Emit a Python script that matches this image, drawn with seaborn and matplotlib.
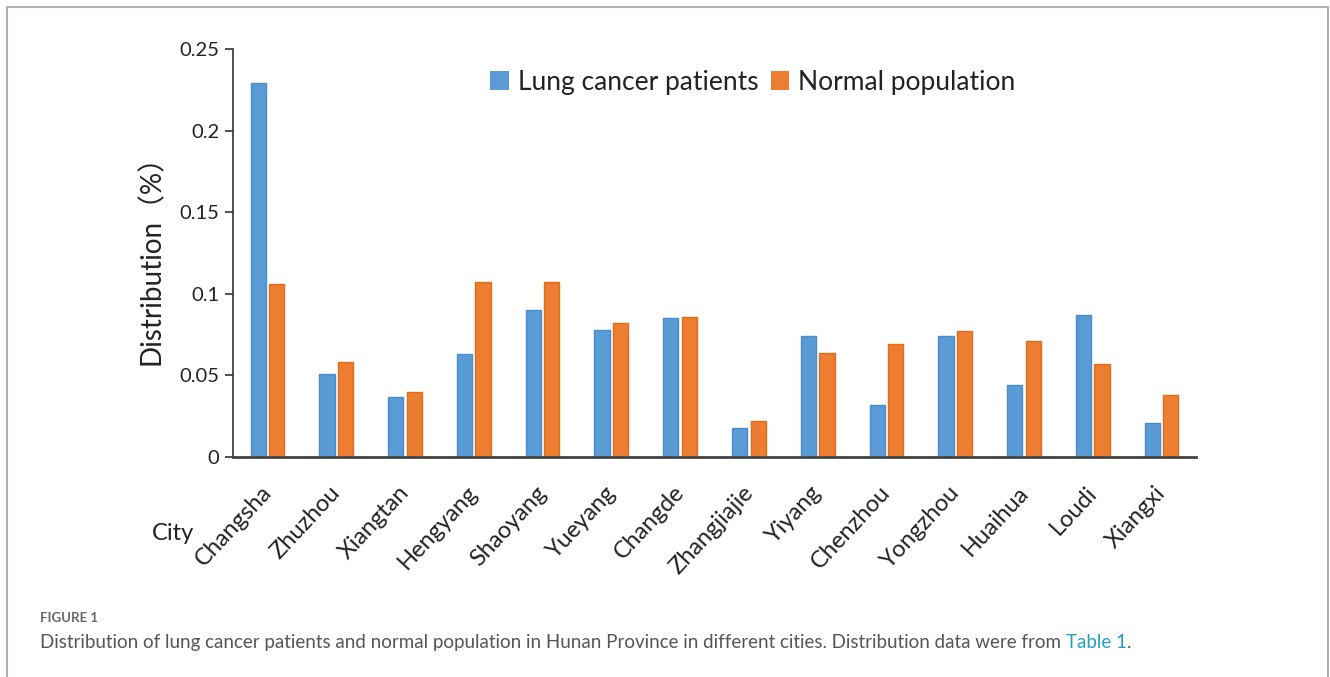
import pandas as pd
import matplotlib.pyplot as plt
import seaborn as sns
from matplotlib.lines import Line2D
from matplotlib.transforms import ScaledTranslation

# City distribution data
cities = ["Changsha", "Zhuzhou", "Xiangtan", "Hengyang", "Shaoyang", "Yueyang", "Changde",
          "Zhangjiajie", "Yiyang", "Chenzhou", "Yongzhou", "Huaihua", "Loudi", "Xiangxi"]
lung_cancer = [0.229, 0.051, 0.037, 0.063, 0.090, 0.078, 0.085,
               0.018, 0.074, 0.032, 0.074, 0.044, 0.087, 0.021]
normal_pop = [0.106, 0.058, 0.040, 0.107, 0.107, 0.082, 0.086,
              0.022, 0.064, 0.069, 0.077, 0.071, 0.057, 0.038]
groups = ["Lung cancer patients", "Normal population"]
yticks = [0, 0.05, 0.1, 0.15, 0.2, 0.25]
ytick_labels = ["0", "0.05", "0.1", "0.15", "0.2", "0.25"]

df = pd.DataFrame({
    "City": cities * 2,
    "Value": lung_cancer + normal_pop,
    "Group": [groups[0]] * len(cities) + [groups[1]] * len(cities),
})

sns.set_style("white")
plt.rcParams["font.family"] = ["Lato", "Noto Sans CJK SC", "DejaVu Sans"]

fig = plt.figure(figsize=(13.3, 6.77), dpi=100)
ax = fig.add_axes([0.1752, 0.3250, 0.7240, 0.6026])

sns.barplot(data=df, x="City", y="Value", hue="Group", ax=ax,
            palette=["#5B9BD5", "#ED7D31"], saturation=1, width=0.54, gap=0.18,
            linewidth=0)
for bar, col in zip(ax.patches, ["#4a8ccc"] * 14 + ["#e06d1c"] * 14):
    bar.set_edgecolor(col)
    bar.set_linewidth(1)

ax.set_xlim(-0.5, len(cities) - 0.5)
ax.set_ylim(0, 0.25)
ax.set_yticks(yticks)
ax.set_yticklabels(ytick_labels, fontsize=14.5, color="#222222")
ax.set_xticks(range(len(cities)))
ax.set_xticklabels(cities, rotation=47, ha="right", rotation_mode="anchor",
                   fontsize=17, color="#222222")
ax.tick_params(axis="x", length=0, pad=10)
ax.tick_params(axis="y", length=6, width=1.2, direction="out", color="#333333", pad=4, left=True)

for s in ["top", "right"]:
    ax.spines[s].set_visible(False)
ax.spines["left"].set_color("#333333")
ax.spines["left"].set_linewidth(1.2)
ax.spines["bottom"].set_color("#444444")
ax.spines["bottom"].set_linewidth(2)

ax.set_xlabel("")
ax.set_ylabel("Distribution（%）", fontsize=20, color="#222222", labelpad=10)

leg = ax.legend(loc="upper center", bbox_to_anchor=(0.54, 1.008), ncol=2, frameon=False,
                fontsize=19, handlelength=0.7, handleheight=0.7,
                handletextpad=0.35, columnspacing=0.45)
for t in leg.get_texts():
    t.set_color("#222222")

fig.text(0.114, 0.203, "City", fontsize=17, color="#222222")

# Caption
fig.text(0.030, 0.081, "FIGURE 1", fontsize=9.5, color="#666666", fontweight="bold")
cap = fig.text(0.030, 0.043,
               "Distribution of lung cancer patients and normal population in Hunan Province in different cities. "
               "Distribution data were from ",
               fontsize=13.5, color="#555555")
fig.canvas.draw()
bb = cap.get_window_extent()
t2 = fig.text(bb.x1 / fig.bbox.width, 0.043, "Table 1", fontsize=13.5, color="#1ea2bf")
bb2 = t2.get_window_extent()
fig.text(bb2.x1 / fig.bbox.width, 0.043, ".", fontsize=13.5, color="#555555")

# nudge city labels left/down so their ends sit under the bar pairs
shift = ScaledTranslation(-7 / 100, -11 / 100, fig.dpi_scale_trans)
for lbl in ax.get_xticklabels():
    lbl.set_transform(lbl.get_transform() + shift)

# Frame around figure (open at bottom)
fig.add_artist(Line2D([0.005, 0.005, 0.9985, 0.9985], [0.0, 0.990, 0.990, 0.0],
                      transform=fig.transFigure, color="#b0b0b0", linewidth=1.5))

fig.savefig("out.png", dpi=100)
